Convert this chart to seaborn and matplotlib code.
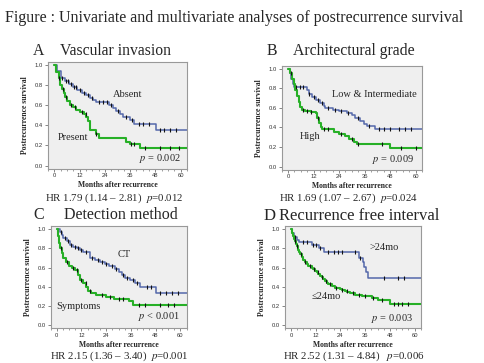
import numpy as np
import matplotlib
matplotlib.use("Agg")
import matplotlib.pyplot as plt
import seaborn as sns
from matplotlib.ticker import MultipleLocator, FormatStrFormatter

# ---------------- data ----------------
# Panel A: Vascular invasion
A_absent_t = [0, 1.5, 3, 5, 7, 9, 11, 13, 15, 17, 18.5, 20, 26, 28, 29.5, 31, 32.5, 36, 38, 48.5, 63]
A_absent_s = [1.0, 0.94, 0.87, 0.84, 0.81, 0.78, 0.75, 0.72, 0.70, 0.67, 0.65, 0.63, 0.60, 0.57, 0.54,
              0.51, 0.48, 0.45, 0.41, 0.35, 0.35]
A_absent_c = [3.5, 5.5, 6.5, 8, 9.5, 10.5, 12, 14, 16, 18, 21, 23, 25, 27, 30, 34, 37, 40, 42, 45, 50, 52, 55, 58]
A_present_t = [0, 1, 2, 2.8, 3.6, 4.4, 5.2, 6, 7.3, 9, 10.5, 12.3, 14, 15.2, 16, 17, 19.8, 21, 34.2, 35.8, 40.8, 63]
A_present_s = [1.0, 0.93, 0.87, 0.80, 0.76, 0.72, 0.68, 0.64, 0.60, 0.58, 0.55, 0.53, 0.51, 0.48, 0.44,
               0.35, 0.31, 0.27, 0.23, 0.21, 0.17, 0.17]
A_present_c = [2, 4, 5.5, 8, 10, 13, 15, 20, 36.5, 38, 43, 50, 55, 59]

# Panel B: Architectural grade
B_low_t = [0, 0.8, 1.5, 2.5, 3, 8.9, 9.7, 11.3, 13.2, 15.2, 16.8, 17.5, 21, 23.8, 27.7, 30.1, 31.6, 34,
           35.6, 37.1, 40.7, 63]
B_low_s = [1.0, 0.96, 0.90, 0.84, 0.81, 0.78, 0.74, 0.71, 0.68, 0.65, 0.62, 0.60, 0.58, 0.57, 0.55, 0.53,
           0.50, 0.47, 0.44, 0.42, 0.38, 0.38]
B_low_c = [4, 5.5, 7, 10, 12, 14, 16, 19, 22, 25, 28, 33, 38, 43, 45, 48, 52, 55, 58]
B_high_t = [0, 1, 2, 2.7, 3.4, 4.2, 5, 5.8, 6.6, 8, 11, 13, 13.8, 14.6, 15.4, 16.2, 21.8, 24, 27, 28.8,
            31, 32.4, 48, 63]
B_high_s = [1.0, 0.96, 0.90, 0.84, 0.78, 0.72, 0.66, 0.61, 0.58, 0.57, 0.56, 0.55, 0.50, 0.45, 0.41, 0.38,
            0.35, 0.33, 0.31, 0.28, 0.25, 0.23, 0.19, 0.19]
B_high_c = [1.5, 7, 9, 11, 14, 17, 19, 25, 30, 33, 44, 53, 60]

# Panel C: Detection method
C_ct_t = [0, 1.5, 2.4, 3.2, 4.9, 6.5, 8.1, 9.7, 11.3, 12.9, 16, 18.6, 21, 23.4, 25.5, 28.3, 30, 31.5, 33,
          35.5, 38, 40.5, 48, 63]
C_ct_s = [1.0, 0.97, 0.94, 0.91, 0.88, 0.84, 0.81, 0.80, 0.78, 0.76, 0.70, 0.68, 0.66, 0.64, 0.62, 0.58,
          0.55, 0.52, 0.49, 0.47, 0.44, 0.40, 0.33, 0.33]
C_ct_c = [2, 4, 5.5, 7, 9, 10.5, 12, 14, 17, 20, 22, 24, 27, 29, 32, 34, 37, 39, 44, 46, 50, 53, 56, 59]
C_sym_t = [0, 0.6, 1.2, 1.8, 2.4, 3.2, 4.4, 6, 7.5, 9, 10.3, 11.3, 12.9, 14.2, 15, 16.5, 19, 24, 28, 35,
           37.2, 63]
C_sym_s = [1.0, 0.93, 0.86, 0.80, 0.75, 0.70, 0.66, 0.62, 0.60, 0.57, 0.52, 0.47, 0.44, 0.40, 0.36, 0.33,
           0.31, 0.29, 0.27, 0.25, 0.21, 0.21]
C_sym_c = [2, 5, 8, 10, 12, 14, 16, 22, 26, 30, 32, 40, 43, 50, 54, 57]

# Panel D: Recurrence free interval
D_gt_t = [0, 0.5, 1.5, 2.9, 4, 10.2, 13.8, 15.9, 32.9, 34.8, 35.6, 36.4, 37.4, 63]
D_gt_s = [1.0, 0.96, 0.92, 0.89, 0.87, 0.84, 0.80, 0.76, 0.70, 0.66, 0.61, 0.55, 0.49, 0.49]
D_gt_c = [2, 6, 8, 10.5, 12, 14, 18, 21, 23, 25, 31, 33.5, 45, 52, 55]
D_le_t = [0, 0.6, 1.1, 1.5, 1.9, 2.4, 2.8, 3.2, 3.6, 4, 4.4, 5.2, 6, 6.8, 7.6, 8.4, 10, 10.8, 11.7, 12.5,
          13.3, 14.1, 14.9, 15.7, 16.5, 17.3, 18.1, 19.7, 21.4, 23.8, 25, 26.2, 27.4, 28.6, 31.1, 34.3,
          39.2, 42.4, 48.1, 63]
D_le_s = [1.0, 0.96, 0.93, 0.90, 0.88, 0.85, 0.83, 0.80, 0.78, 0.76, 0.74, 0.71, 0.68, 0.66, 0.64, 0.62,
          0.60, 0.58, 0.56, 0.55, 0.53, 0.51, 0.50, 0.48, 0.46, 0.44, 0.43, 0.41, 0.39, 0.38, 0.37, 0.36,
          0.34, 0.33, 0.31, 0.30, 0.28, 0.26, 0.22, 0.22]
D_le_c = [2, 3, 5, 7, 9, 11, 13, 15, 17, 19, 22, 25, 27, 30, 33, 36, 40, 44, 50, 52, 54, 57]

x_ticks = [0, 12, 24, 36, 48, 60]
y_ticks = [0.0, 0.2, 0.4, 0.6, 0.8, 1.0]

title = "Figure : Univariate and multivariate analyses of postrecurrence survival"
panel_letters = ["A", "B", "C", "D"]
panel_titles = ["Vascular invasion", "Architectural grade", "Detection method", "Recurrence free interval"]
group_labels = [("Absent", "Present"), ("Low & Intermediate", "High"), ("CT", "Symptoms"), (">24mo", "≤24mo")]
pvals = ["$p$ = 0.002", "$p$ = 0.009", "$p$ < 0.001", "$p$ = 0.003"]
hr_texts = ["HR 1.79 (1.14 – 2.81)  $p$=0.012", "HR 1.69 (1.07 – 2.67)  $p$=0.024",
            "HR 2.15 (1.36 – 3.40)  $p$=0.001", "HR 2.52 (1.31 – 4.84)   $p$=0.006"]

# ---------------- style ----------------
sns.set_theme(style="ticks")
plt.rcParams["font.family"] = ["Liberation Serif", "DejaVu Serif"]
plt.rcParams["mathtext.fontset"] = "stix"

W, H = 484, 363
fig = plt.figure(figsize=(W / 100, H / 100), dpi=100)
fig.patch.set_facecolor("white")

BLUE = "#5468aa"
GREEN = "#27b027"
SERIF = ["Liberation Serif", "DejaVu Serif"]


def fx(px):
    return px / W


def fy(py):
    return 1 - py / H


def add_ax(left, top, right, bottom):
    return fig.add_axes([fx(left), fy(bottom), (right - left) / W, (bottom - top) / H])


def step_val(t, s, c):
    t = np.asarray(t)
    s = np.asarray(s)
    idx = np.searchsorted(t, np.asarray(c), side="right") - 1
    return s[idx]


def draw_curve(ax, t, s, c, color, lw):
    sns.lineplot(x=t, y=s, ax=ax, color=color, linewidth=lw, drawstyle="steps-post",
                 estimator=None, sort=False, legend=False)
    sns.scatterplot(x=c, y=step_val(t, s, c), ax=ax, marker="|", s=9, color="#111111",
                    linewidth=0.8, legend=False, zorder=5)


def style_ax(ax):
    ax.set_facecolor("#efefef")
    ax.set_xlim(-3, 63)
    ax.set_ylim(-0.03, 1.03)
    ax.set_xticks(x_ticks)
    ax.set_yticks(y_ticks)
    ax.xaxis.set_minor_locator(MultipleLocator(3))
    ax.yaxis.set_major_formatter(FormatStrFormatter("%.1f"))
    for sp in ax.spines.values():
        sp.set_visible(True)
        sp.set_color("#999999")
        sp.set_linewidth(0.8)
    ax.tick_params(axis="both", which="major", labelsize=4.2, length=2, width=0.5, color="#555555",
                   pad=1.5, labelcolor="#333333")
    ax.tick_params(axis="x", which="minor", length=1.3, width=0.4, color="#555555")
    for lab in ax.get_xticklabels() + ax.get_yticklabels():
        lab.set_family(["Liberation Sans", "DejaVu Sans"])
    ax.set_xlabel("Months after recurrence", fontsize=5.5, fontweight="bold", family=SERIF, labelpad=2)
    ax.set_ylabel("Postrecurrence survival", fontsize=5.5, fontweight="bold", family=SERIF)
    ax.yaxis.set_label_coords(-0.135, 0.5)
    ax.grid(False)


axA = add_ax(48, 62, 187, 168.6)
axB = add_ax(281.6, 65.8, 422, 169.6)
axC = add_ax(50.5, 226.4, 186.5, 327.9)
axD = add_ax(284.8, 226.4, 420.8, 327.9)
axes = [axA, axB, axC, axD]

curves = [
    ((A_absent_t, A_absent_s, A_absent_c), (A_present_t, A_present_s, A_present_c)),
    ((B_low_t, B_low_s, B_low_c), (B_high_t, B_high_s, B_high_c)),
    ((C_ct_t, C_ct_s, C_ct_c), (C_sym_t, C_sym_s, C_sym_c)),
    ((D_gt_t, D_gt_s, D_gt_c), (D_le_t, D_le_s, D_le_c)),
]

# label positions in data coords (x, y) for top group, bottom group, p value
label_pos = [
    ((35, 0.71), (9, 0.28), (50, 0.07)),
    ((40.4, 0.74), (10.3, 0.31), (49.3, 0.07)),
    ((32.7, 0.74), (10.8, 0.19), (49.4, 0.094)),
    ((45, 0.81), (17.2, 0.30), (49, 0.07)),
]

for ax, (blue, green), labs, pos, pv in zip(axes, curves, group_labels, label_pos, pvals):
    draw_curve(ax, *blue, BLUE, 1.1)
    draw_curve(ax, *green, GREEN, 1.5)
    style_ax(ax)
    ax.text(*pos[0], labs[0], fontsize=7.5, ha="center", va="center", family=SERIF)
    ax.text(*pos[1], labs[1], fontsize=7.5, ha="center", va="center", family=SERIF)
    ax.text(*pos[2], pv, fontsize=7.5, ha="center", va="center", family=SERIF)

# figure title
fig.text(fx(5), fy(18), title, fontsize=11.55, ha="left", va="center", family=SERIF)

# panel headings
head = [
    (33, 60, 51, 11.3), (267, 293, 51, 11.3), (33, 64, 215, 11.5), (264, 279, 216, 12),
]
for (xl, xt, yy, fs), letter, ttl in zip(head, panel_letters, panel_titles):
    fig.text(fx(xl), fy(yy), letter, fontsize=fs, ha="left", va="center", family=SERIF)
    fig.text(fx(xt), fy(yy), ttl, fontsize=fs, ha="left", va="center", family=SERIF)

# HR texts
hr_pos = [(114.5, 198), (348.5, 198), (119.5, 356), (354, 356)]
for (xx, yy), txt in zip(hr_pos, hr_texts):
    fig.text(fx(xx), fy(yy), txt, fontsize=7.8, ha="center", va="center", family=SERIF)

fig.savefig("out.png", dpi=100, facecolor="white")
